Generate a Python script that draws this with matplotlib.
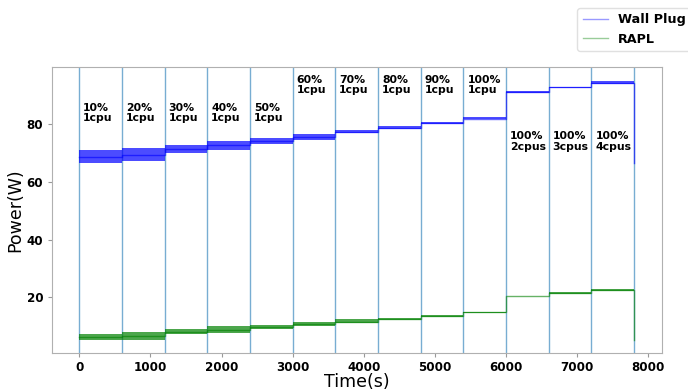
import numpy as np
import matplotlib.pyplot as plt
from matplotlib.lines import Line2D

# Grenzen der Lastphasen (s)
edges = [0, 600, 1200, 1800, 2400, 3000, 3600, 4200, 4800, 5400, 6000, 6600, 7200, 7800]

# Wall Plug: Mittelwert und Rauschband je Phase (W)
wall_mean = [68.8, 69.4, 71.3, 72.7, 74.2, 75.5, 77.4, 78.8, 80.4, 82.0, 91.2, 92.8, 94.4]
wall_lo = [66.7, 67.3, 70.0, 71.1, 73.2, 74.6, 76.9, 78.3, 80.0, 81.7, 90.9, 92.5, 93.8]
wall_hi = [71.1, 71.7, 72.8, 74.3, 75.4, 76.5, 78.0, 79.4, 80.9, 82.4, 91.5, 93.1, 95.0]
wall_end = 66.5

# RAPL: Mittelwert und Rauschband je Phase (W)
rapl_mean = [6.2, 6.5, 8.1, 8.8, 9.7, 10.7, 11.6, 12.4, 13.6, 14.8, 20.5, 21.4, 22.5]
rapl_lo = [5.1, 5.2, 7.1, 7.7, 9.1, 10.0, 11.1, 12.0, 13.3, 14.7, 20.4, 21.2, 22.2]
rapl_hi = [7.4, 7.8, 9.1, 9.9, 10.5, 11.5, 12.3, 12.8, 13.9, 14.9, 20.6, 21.7, 22.9]
rapl_end = 5.3

# Beschriftungen der Phasen
labels = ["10%\n1cpu", "20%\n1cpu", "30%\n1cpu", "40%\n1cpu", "50%\n1cpu",
          "60%\n1cpu", "70%\n1cpu", "80%\n1cpu", "90%\n1cpu", "100%\n1cpu",
          "100%\n2cpus", "100%\n3cpus", "100%\n4cpus"]
label_y = [87.5, 87.5, 87.5, 87.5, 87.5, 97.2, 97.2, 97.2, 97.2, 97.2, 77.5, 77.5, 77.5]

fig = plt.figure(figsize=(6.88, 3.9), dpi=100)
ax = fig.add_axes([0.075, 0.095, 0.887, 0.732])

# Phasengrenzen
for t in edges:
    ax.axvline(t, color='#1f77b4', lw=1, alpha=0.6, zorder=1)

def draw_series(mean, lo, hi, end, color):
    ax.stairs(hi, edges, baseline=lo, fill=True, color=color, alpha=0.7, lw=0, zorder=2)
    xs = list(edges) + [edges[-1]]
    ys = list(mean) + [mean[-1], end]
    ax.plot(xs, ys, drawstyle='steps-post', color=color, lw=1, alpha=0.6, zorder=3)

draw_series(wall_mean, wall_lo, wall_hi, wall_end, 'blue')
draw_series(rapl_mean, rapl_lo, rapl_hi, rapl_end, 'green')

for t, txt, y in zip(edges[:-1], labels, label_y):
    ax.text(t + 55, y, txt, fontsize=7.8, fontweight='bold', ha='left', va='top',
            linespacing=1.1)

ax.set_xlim(-390, 8190)
ax.set_ylim(0.7, 99.7)
ax.set_xticks([0, 1000, 2000, 3000, 4000, 5000, 6000, 7000, 8000])
ax.set_yticks([20, 40, 60, 80])
ax.tick_params(labelsize=8.6, color='#999999', length=3, pad=3)
for lab in ax.get_xticklabels() + ax.get_yticklabels():
    lab.set_fontweight('bold')
for sp in ax.spines.values():
    sp.set_color('#b0b0b0')
ax.set_xlabel('Time(s)', fontsize=12.5, labelpad=-1)
ax.set_ylabel('Power(W)', fontsize=12.5, labelpad=2)

handles = [Line2D([], [], color='blue', lw=1, alpha=0.4),
           Line2D([], [], color='green', lw=1, alpha=0.4)]
fig.legend(handles, ['Wall Plug', 'RAPL'], loc='upper left',
           bbox_to_anchor=(571 / 688, 1 - 2 / 390),
           prop={'weight': 'bold', 'size': 9.2}, framealpha=1, edgecolor='#e0e0e0')

plt.savefig('out.png', dpi=100)
